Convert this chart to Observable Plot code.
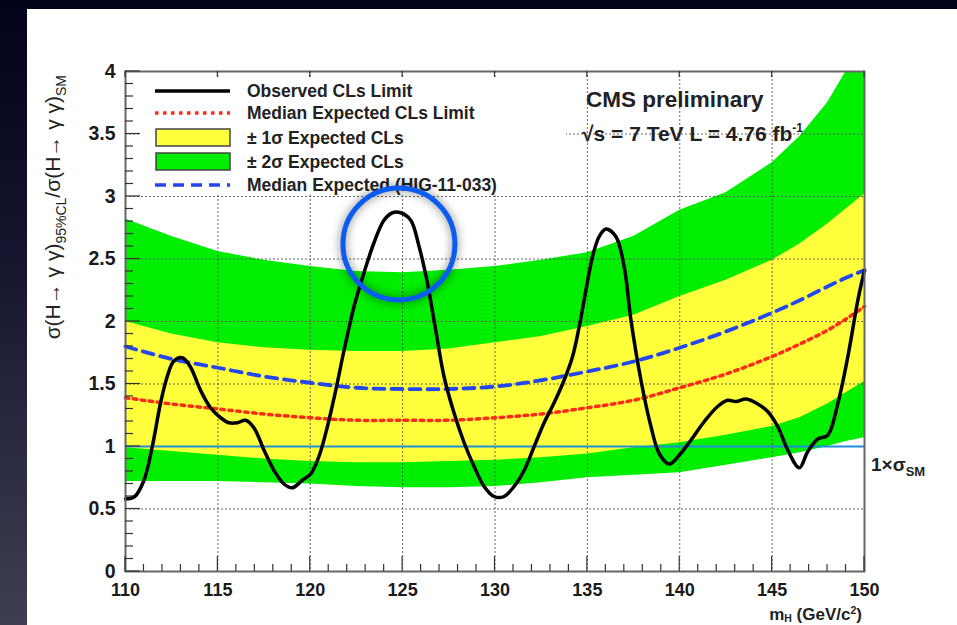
<!DOCTYPE html>
<html>
<head>
<meta charset="utf-8">
<script src="https://cdn.jsdelivr.net/npm/d3@7"></script>
<script src="https://cdn.jsdelivr.net/npm/@observablehq/plot@0.6"></script>
<style>
  html, body { margin: 0; padding: 0; width: 957px; height: 625px; overflow: hidden; }
  body { background: linear-gradient(to bottom, #02021a 0%, #14142e 40%, #3e3f52 100%); position: relative; }
  #panel { position: absolute; left: 27px; top: 9px; width: 930px; height: 616px; background: #fff; }
  #chart { position: absolute; left: 0; top: 0; }
  #chart svg { background: transparent; }
</style>
</head>
<body>
<div id="panel"></div>
<div id="chart"></div>
<script>
// ---- data ----
const bandMass  = [110, 112.5, 115, 117.5, 120, 122.5, 125, 127.5, 130, 132.5, 135, 137.5, 140, 142.5, 145, 146.5, 148, 149, 150];
const minus2    = [0.72, 0.72, 0.72, 0.71, 0.70, 0.68, 0.67, 0.67, 0.68, 0.71, 0.75, 0.77, 0.79, 0.85, 0.91, 0.95, 1.00, 1.04, 1.07];
const minus1    = [0.99, 0.96, 0.93, 0.90, 0.88, 0.87, 0.87, 0.88, 0.89, 0.91, 0.94, 0.99, 1.03, 1.09, 1.16, 1.23, 1.34, 1.43, 1.52];
const median    = [1.39, 1.34, 1.30, 1.26, 1.23, 1.21, 1.21, 1.21, 1.23, 1.26, 1.31, 1.37, 1.47, 1.58, 1.72, 1.82, 1.93, 2.02, 2.12];
const plus1     = [2.00, 1.90, 1.83, 1.79, 1.77, 1.76, 1.76, 1.78, 1.83, 1.88, 1.96, 2.05, 2.20, 2.33, 2.49, 2.62, 2.78, 2.90, 3.02];
const plus2     = [2.82, 2.68, 2.56, 2.49, 2.44, 2.40, 2.39, 2.41, 2.44, 2.49, 2.55, 2.68, 2.89, 3.03, 3.27, 3.48, 3.75, 4.00, 4.30];
const medianHIG = [1.80, 1.70, 1.63, 1.56, 1.51, 1.47, 1.46, 1.46, 1.48, 1.53, 1.60, 1.68, 1.79, 1.92, 2.07, 2.17, 2.28, 2.35, 2.41];

const obsMass = [110.0, 110.5, 111.0, 111.45, 111.9, 112.26, 112.6, 113.07, 113.5, 114.06, 114.6, 115.15, 115.6, 116.05, 116.5, 116.95,
  117.5, 118.03, 118.58, 119.03, 119.57, 120.02, 120.47, 120.93, 121.38, 121.83, 122.37, 122.91, 123.45, 123.99, 124.45, 124.9,
  125.44, 125.89, 126.34, 126.79, 127.24, 127.78, 128.33, 128.87, 129.41, 129.95, 130.49, 131.03, 131.58, 132.12, 132.66, 133.2,
  133.74, 134.2, 134.56, 134.92, 135.28, 135.64, 136.0, 136.54, 136.99, 137.36, 137.9, 138.44, 138.9, 139.43, 139.97, 140.6,
  141.33, 142.05, 142.6, 143.04, 143.59, 144.22, 144.76, 145.3, 145.85, 146.47, 146.93, 147.47, 148.01, 148.55, 149.1, 149.64, 150.0];
const obsValue = [0.58, 0.60, 0.73, 1.00, 1.35, 1.56, 1.68, 1.71, 1.64, 1.45, 1.31, 1.23, 1.19, 1.19, 1.21, 1.15,
  0.97, 0.81, 0.70, 0.67, 0.73, 0.78, 0.92, 1.16, 1.45, 1.77, 2.12, 2.39, 2.63, 2.81, 2.87, 2.87,
  2.81, 2.60, 2.31, 1.93, 1.56, 1.27, 1.03, 0.84, 0.68, 0.60, 0.60, 0.68, 0.81, 1.00, 1.19, 1.35,
  1.53, 1.72, 1.96, 2.25, 2.52, 2.68, 2.74, 2.68, 2.44, 2.01, 1.53, 1.16, 0.94, 0.86, 0.93, 1.05,
  1.20, 1.32, 1.37, 1.36, 1.38, 1.34, 1.28, 1.16, 0.97, 0.83, 0.96, 1.06, 1.09, 1.34, 1.72, 2.17, 2.41];

const smLine = [1];
const highlight = [{mass: 124.8, value: 2.62}];

const xTicks = [110, 115, 120, 125, 130, 135, 140, 145, 150];
const xGrid  = [115, 120, 125, 130, 135, 140, 145];
const yTicks = [0, 0.5, 1, 1.5, 2, 2.5, 3, 3.5, 4];
const yGrid  = [0.5, 1, 1.5, 2, 2.5, 3, 3.5];

const legendItems = [
  {label: "Observed CLs Limit", kind: "line", color: "#000", dash: null},
  {label: "Median Expected CLs Limit", kind: "line", color: "#ff2a1a", dash: "3.5,4.5"},
  {label: "± 1σ Expected CLs", kind: "box", color: "#ffff3c"},
  {label: "± 2σ Expected CLs", kind: "box", color: "#00ee00"},
  {label: "Median Expected (HIG-11-033)", kind: "line", color: "#2346f0", dash: "11,7"}
];

// ---- build tables ----
const bands = bandMass.map((m, i) => ({mass: m, m2: minus2[i], m1: minus1[i], med: median[i], p1: plus1[i], p2: plus2[i], hig: medianHIG[i]}));
const observed = obsMass.map((m, i) => ({mass: m, value: obsValue[i]}));

const FONT = "'Liberation Sans', Arial, Helvetica, sans-serif";

const chart = Plot.plot({
  width: 957,
  height: 625,
  marginLeft: 125,
  marginRight: 93,
  marginTop: 71,
  marginBottom: 54,
  style: {background: "transparent", fontFamily: FONT, color: "#1a1a1a"},
  x: {domain: [110, 150], axis: null},
  y: {domain: [0, 4], axis: null, clamp: true},
  marks: [
    Plot.areaY(bands, {x: "mass", y1: "m2", y2: "p2", fill: "#00ee00", clip: true}),
    Plot.areaY(bands, {x: "mass", y1: "m1", y2: "p1", fill: "#ffff3c", clip: true}),
    Plot.gridX(xGrid, {stroke: "#555", strokeOpacity: 0.9, strokeDasharray: "2,2", strokeWidth: 1}),
    Plot.gridY(yGrid, {stroke: "#555", strokeOpacity: 0.9, strokeDasharray: "2,2", strokeWidth: 1}),
    Plot.ruleY(smLine, {stroke: "#1f8fd6", strokeWidth: 1.8}),
    Plot.line(bands, {x: "mass", y: "med", stroke: "#ff2a1a", strokeWidth: 3.5, strokeDasharray: "3.5,4.5", curve: "catmull-rom"}),
    Plot.line(bands, {x: "mass", y: "hig", stroke: "#2346f0", strokeWidth: 3.8, strokeDasharray: "11,7", curve: "catmull-rom"}),
    Plot.line(observed, {x: "mass", y: "value", stroke: "#000", strokeWidth: 3.5, curve: "catmull-rom"}),
    Plot.axisX(xTicks, {anchor: "bottom", tickSize: 0, tickPadding: 12, fontSize: 18, fontWeight: "bold", tickFormat: d => String(d), label: null}),
    Plot.axisY(yTicks, {anchor: "left", tickSize: 0, tickPadding: 10, fontSize: 19.5, fontWeight: "bold", tickFormat: d => String(d), label: null}),
    Plot.frame({stroke: "#666", strokeWidth: 2}),
    Plot.dot(highlight, {x: "mass", y: "value", r: 56, stroke: "#0a5cf2", strokeWidth: 5, fill: "none"})
  ]
});
document.getElementById("chart").append(chart);

// ---- decorations via the plot's own scales ----
const svg = d3.select(chart);
const sx = chart.scale("x"), sy = chart.scale("y");
const X = v => sx.apply(v), Y = v => sy.apply(v);
const x0 = X(110), x1 = X(150), y0 = Y(0), y1 = Y(4);

const ticks = svg.append("g").attr("stroke", "#333").attr("stroke-width", 1.2);
for (let m = 110; m <= 150; m += 1) {
  const major = m % 5 === 0;
  ticks.append("line").attr("x1", X(m)).attr("x2", X(m)).attr("y1", y0).attr("y2", y0 - (major ? 15 : 7));
  if (major) ticks.append("line").attr("x1", X(m)).attr("x2", X(m)).attr("y1", y1).attr("y2", y1 + 6);
}
for (let k = 0; k <= 40; k++) {
  const v = k / 10;
  const major = k % 5 === 0;
  ticks.append("line").attr("x1", x0).attr("x2", x0 + (major ? 15 : 8)).attr("y1", Y(v)).attr("y2", Y(v));
}

// legend box
const lg = svg.append("g").attr("font-family", FONT).attr("font-weight", "bold").attr("font-size", 17.5)
  .attr("fill", "#222").attr("text-anchor", "start");
lg.append("rect").attr("x", x0 + 16).attr("y", y1 + 8).attr("width", 425).attr("height", 114).attr("fill", "#fff");
const rowY = [91, 113, 137.5, 161.5, 185];
legendItems.forEach((d, i) => {
  const cy = rowY[i];
  if (d.kind === "line") {
    lg.append("line").attr("x1", 155).attr("x2", 230).attr("y1", cy).attr("y2", cy)
      .attr("stroke", d.color).attr("stroke-width", 3.6).attr("stroke-dasharray", d.dash);
  } else {
    lg.append("rect").attr("x", 156).attr("y", cy - 8.5).attr("width", 74).attr("height", 17)
      .attr("fill", d.color).attr("stroke", "#444").attr("stroke-width", 1.5);
  }
  lg.append("text").attr("x", 247).attr("y", cy + 6).text(d.label);
});

// CMS labels
const tg = svg.append("g").attr("font-family", FONT).attr("font-weight", "bold").attr("fill", "#222").attr("text-anchor", "start");
tg.append("text").attr("x", 586).attr("y", 107).attr("font-size", 22.5).text("CMS preliminary");
const lum = tg.append("text").attr("x", 582).attr("y", 141).attr("font-size", 21);
lum.append("tspan").text("√s = 7 TeV L = 4.76 fb");
lum.append("tspan").attr("dy", -9).attr("font-size", 12).text("-1");

// 1 x sigma_SM
const sm = tg.append("text").attr("x", 871).attr("y", Y(1) + 25).attr("font-size", 19);
sm.append("tspan").text("1×σ");
sm.append("tspan").attr("dy", 5).attr("font-size", 13).text("SM");

// x title
const xt = tg.append("text").attr("x", x1 - 2).attr("y", 620).attr("font-size", 17).attr("text-anchor", "end");
xt.append("tspan").text("m");
xt.append("tspan").attr("dy", 2).attr("font-size", 10.5).text("H");
xt.append("tspan").attr("dy", -2).text(" (GeV/c");
xt.append("tspan").attr("dy", -6).attr("font-size", 10.5).text("2");
xt.append("tspan").attr("dy", 6).text(")");

// y title
const yt = svg.append("text").attr("font-family", FONT).attr("fill", "#222").attr("font-size", 21)
  .attr("text-anchor", "end").attr("transform", `translate(60, ${y1 + 4}) rotate(-90)`);
yt.append("tspan").text("σ(H→ γ γ)");
yt.append("tspan").attr("dy", 6).attr("font-size", 14).text("95%CL");
yt.append("tspan").attr("dy", -6).text("/σ(H→ γ γ)");
yt.append("tspan").attr("dy", 6).attr("font-size", 14).text("SM");

// bring the highlight circle on top, with a soft shadow
svg.selectAll('g[aria-label="dot"]').raise().style("filter", "drop-shadow(0px 0px 5px rgba(0,0,0,0.55))");
</script>
</body>
</html>
